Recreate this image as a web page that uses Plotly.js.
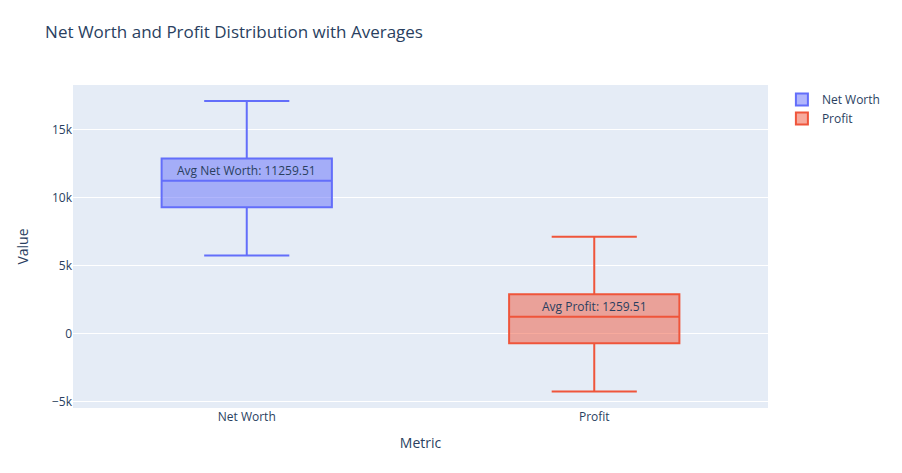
<!DOCTYPE html>
<html>
<head>
<meta charset="utf-8">
<script src="https://cdn.plot.ly/plotly-3.0.1.min.js"></script>
<style>body{margin:0;padding:0;background:#fff;}</style>
</head>
<body>
<div id="chart" style="width:902px;height:473px;"></div>
<script>
var metrics = ['Net Worth', 'Profit'];
var lowerFence = [5750, -4250];
var q1 = [9300, -700];
var median = [11259.51, 1259.51];
var q3 = [12900, 2900];
var upperFence = [17130, 7130];
var averages = [11259.51, 1259.51];
var colors = ['#636efa', '#EF553B'];

var data = [];
var annotations = [];
for (var i = 0; i < metrics.length; i++) {
    data.push({
        type: 'box',
        name: metrics[i],
        x: [metrics[i]],
        lowerfence: [lowerFence[i]],
        q1: [q1[i]],
        median: [median[i]],
        q3: [q3[i]],
        upperfence: [upperFence[i]],
        width: 0.49,
        marker: {color: colors[i]},
        line: {color: colors[i]}
    });
    annotations.push({
        x: metrics[i],
        y: averages[i],
        text: 'Avg ' + metrics[i] + ': ' + averages[i].toFixed(2),
        showarrow: false,
        yanchor: 'bottom',
        font: {size: 12, color: '#2a3f5f'}
    });
}

var layout = {
    width: 902,
    height: 473,
    font: {family: '"Open Sans", verdana, arial, sans-serif', color: '#2a3f5f', size: 12},
    title: {text: 'Net Worth and Profit Distribution with Averages', font: {size: 17}, x: 0.05, xanchor: 'left', y: 0.932, yanchor: 'middle'},
    paper_bgcolor: 'white',
    plot_bgcolor: '#E5ECF6',
    margin: {l: 73, r: 134, t: 85, b: 65},
    xaxis: {
        title: {text: 'Metric', standoff: 14},
        automargin: true,
        range: [-0.5, 1.5],
        showgrid: false,
        zeroline: false,
        ticks: ''
    },
    yaxis: {
        title: {text: 'Value', standoff: 20},
        automargin: true,
        range: [-5460, 18300],
        dtick: 5000,
        gridcolor: 'white',
        zeroline: false,
        ticks: ''
    },
    legend: {x: 1.02, y: 1},
    annotations: annotations
};

Plotly.newPlot('chart', data, layout, {displayModeBar: false});
</script>
</body>
</html>
